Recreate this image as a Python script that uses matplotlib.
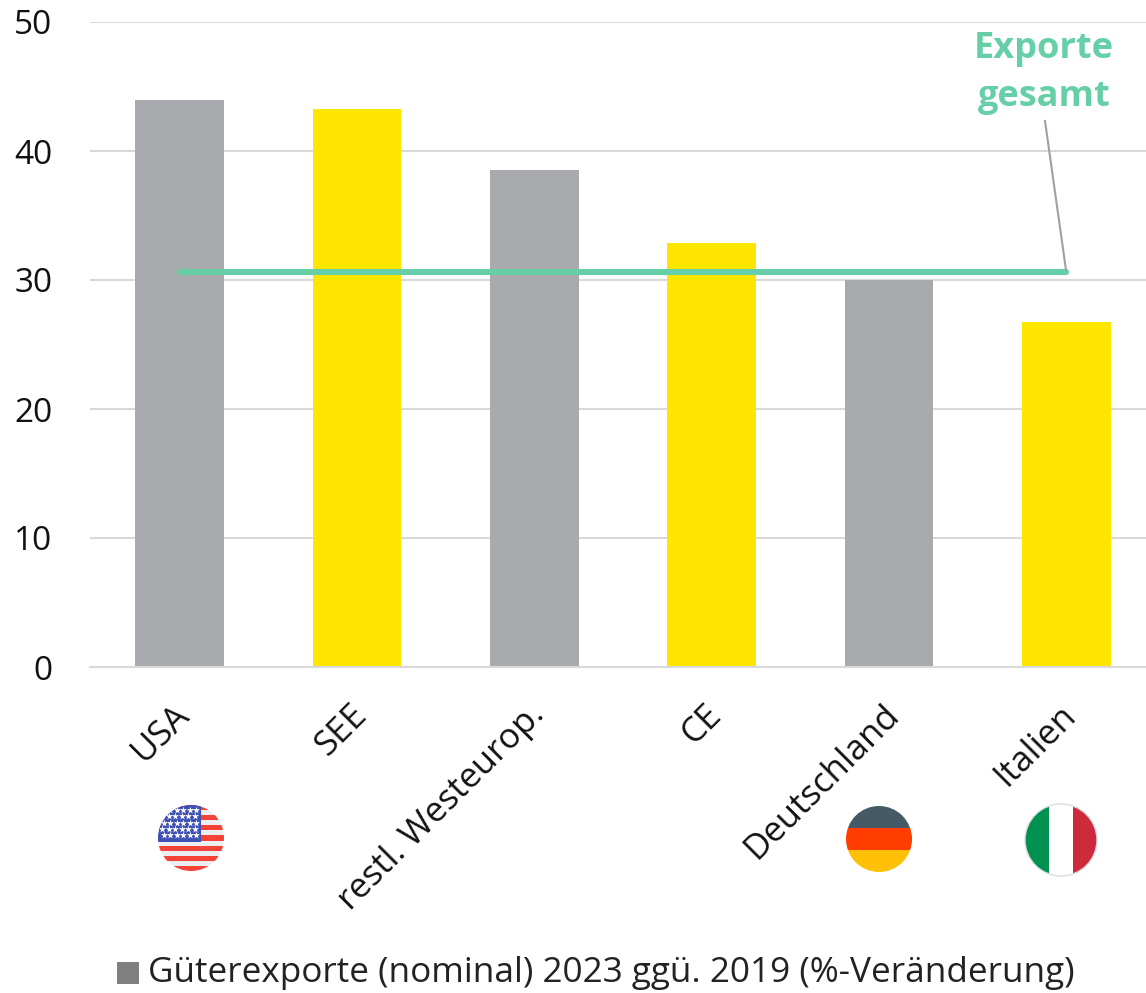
import matplotlib
matplotlib.use("Agg")
import matplotlib.pyplot as plt
from matplotlib.patches import Circle, Rectangle
from matplotlib.transforms import ScaledTranslation

plt.rcParams['font.family'] = ['Open Sans', 'DejaVu Sans']

categories = ["USA", "SEE", "restl. Westeurop.", "CE", "Deutschland", "Italien"]
values = [43.95, 43.25, 38.5, 32.85, 30.0, 26.75]
total_exports = 30.65
yticks = [0, 10, 20, 30, 40, 50]
legend_label = "Güterexporte (nominal) 2023 ggü. 2019 (%-Veränderung)"

GREY = "#A9AAAD"
YELLOW = "#FFE600"
GREEN = "#66CFA8"
bar_colors = [GREY, YELLOW, GREY, YELLOW, GREY, YELLOW]

W, H = 1146, 993
fig = plt.figure(figsize=(W / 100, H / 100), dpi=100)

# main axes, pixel box from the reference
ax = fig.add_axes([90 / W, 1 - 667 / H, (W - 90) / W, (667 - 22) / H])
ax.bar(range(len(values)), values, width=0.5, color=bar_colors, zorder=2)
ax.plot([0, 5], [total_exports, total_exports], color=GREEN, lw=4.4,
        solid_capstyle="round", zorder=3)

ax.set_xlim(-0.505, 5.45)
ax.set_ylim(0, 50)
ax.set_yticks(yticks)
ax.grid(axis="y", color="#D9D9D9", lw=1.5, zorder=0)
ax.set_axisbelow(True)
for s in ["top", "right", "left"]:
    ax.spines[s].set_visible(False)
ax.spines["bottom"].set_color("#D9D9D9")
ax.spines["bottom"].set_linewidth(1.5)
ax.tick_params(axis="y", length=0, pad=27, labelsize=24, labelcolor="#111111")
ax.tick_params(axis="x", length=0, pad=22)
ax.set_xticks(range(len(categories)))
ax.set_xticklabels(categories, rotation=45, ha="right", rotation_mode="anchor",
                   fontsize=25, color="#111111")
shift = ScaledTranslation(-7 / 100, 0, fig.dpi_scale_trans)
for t in ax.get_xticklabels():
    t.set_transform(t.get_transform() + shift)

# overlay in reference pixels for flags, callout, legend
ov = fig.add_axes([0, 0, 1, 1], zorder=5)
ov.set_xlim(0, W)
ov.set_ylim(H, 0)
ov.axis("off")
ov.patch.set_alpha(0)

ov.text(1044, 49, "Exporte", color=GREEN, fontsize=26, fontweight="bold",
        ha="center", va="center")
ov.text(1044, 97, "gesamt", color=GREEN, fontsize=26, fontweight="bold",
        ha="center", va="center")
ov.plot([1045, 1066], [121, 270], color="#A0A0A0", lw=1.5)

ov.add_patch(Rectangle((117, 962), 22, 22, color="#808080", lw=0))
ov.text(148, 973, legend_label, fontsize=25.3, color="#222222", ha="left", va="center")


def flag(cx, cy, r, stripes, vertical=False):
    clip = Circle((cx, cy), r, transform=ov.transData)
    n = sum(s[1] for s in stripes)
    pos = 0.0
    for color, share in stripes:
        size = 2 * r * share / n
        if vertical:
            rect = Rectangle((cx - r + pos, cy - r), size, 2 * r, color=color, lw=0)
        else:
            rect = Rectangle((cx - r, cy - r + pos), 2 * r, size, color=color, lw=0)
        ov.add_patch(rect)
        rect.set_clip_path(clip)
        pos += size


# USA
flag(191, 838, 33, [("#F44336" if i % 2 == 0 else "#ECEFF1", 1) for i in range(13)])
clip = Circle((191, 838), 33, transform=ov.transData)
canton = Rectangle((158, 805), 43, 37, color="#3F51B5", lw=0, zorder=3)
ov.add_patch(canton)
canton.set_clip_path(clip)
star_x, star_y = [], []
for row in range(5):
    for col in range(6):
        star_x.append(162 + col * 6.5 + (1.5 if row % 2 == 0 else 0))
        star_y.append(810 + row * 6.3)
stars = ov.scatter(star_x, star_y, marker="*", s=28, color="white", lw=0, zorder=4)
stars.set_clip_path(clip)

# Germany and Italy
flag(879, 839, 33, [("#455A64", 1), ("#FF3D00", 1), ("#FFC107", 1)])
flag(1061, 840, 36, [("#009150", 1), ("#FFFFFF", 1), ("#CD2A3C", 1)], vertical=True)
ov.add_patch(Circle((1061, 840), 36, fill=False, ec="#DDDDDD", lw=1))

fig.savefig("out.png", dpi=100, facecolor="white")
